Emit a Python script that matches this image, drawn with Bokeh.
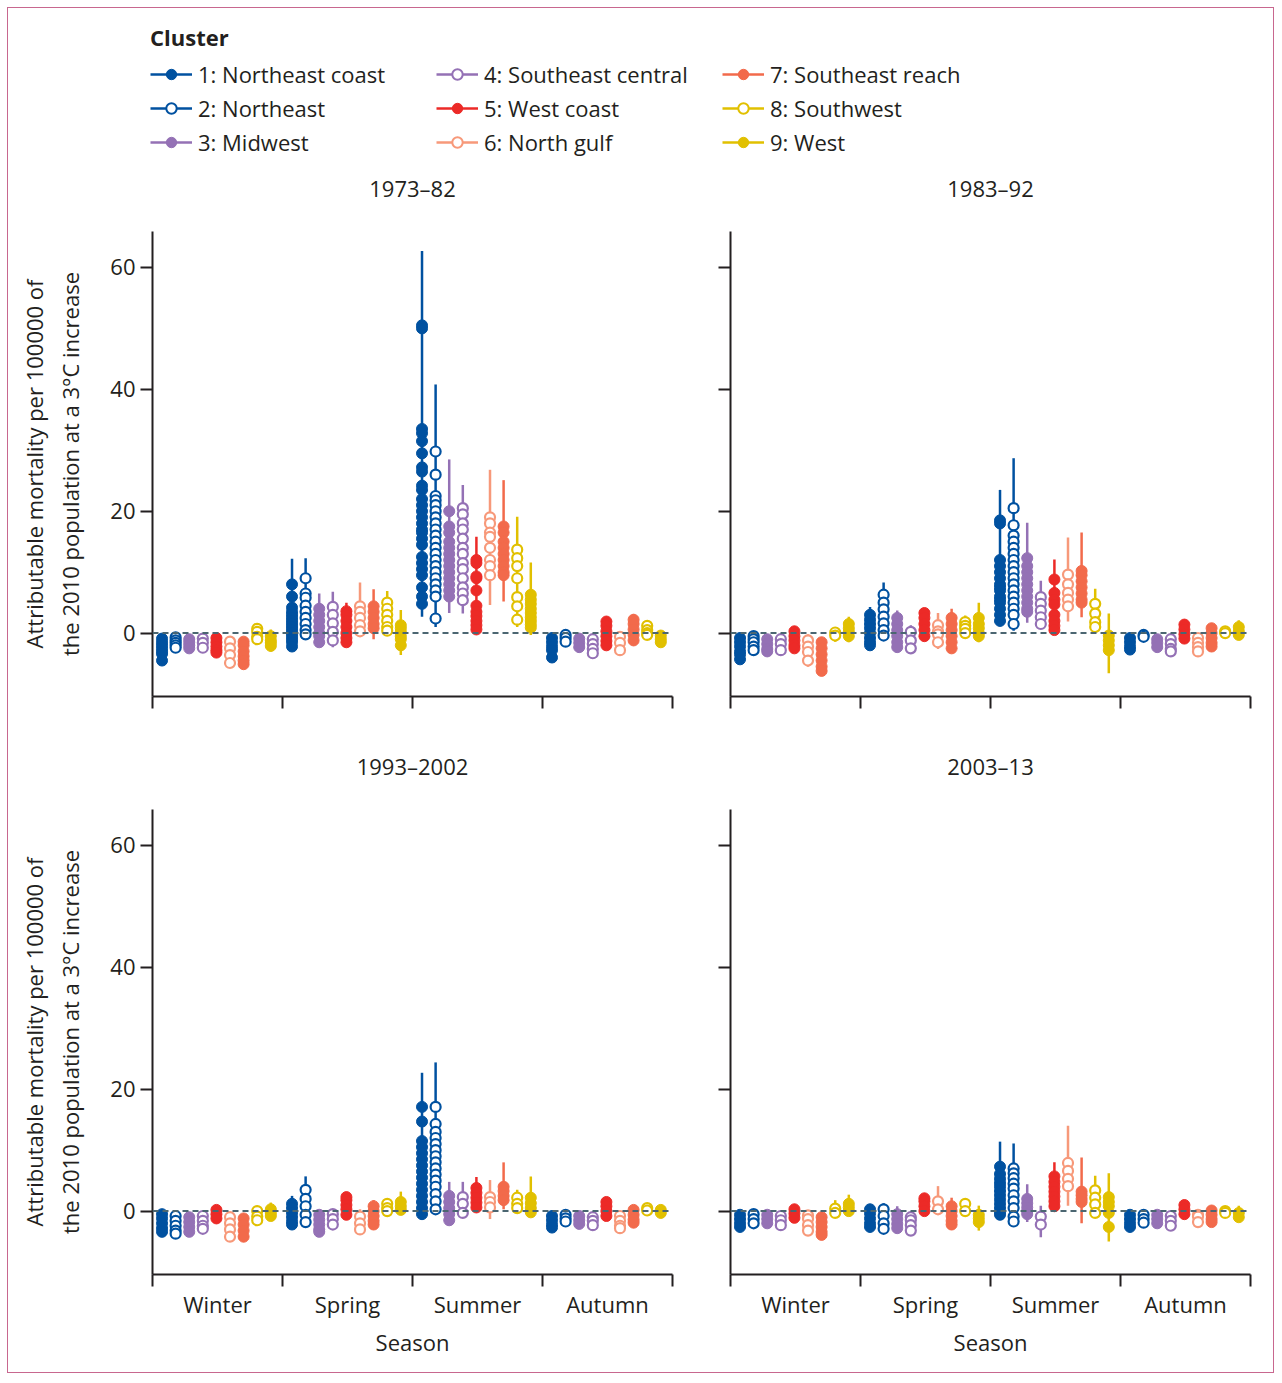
from bokeh.plotting import figure
from bokeh.models import (ColumnDataSource, Range1d, FixedTicker, Span, Legend, LegendItem,
                          LinearAxis)
from bokeh.layouts import column, row
from bokeh.embed import file_html
from bokeh.resources import INLINE

FONT = "Open Sans"
TXT = "#231f20"

CLUSTERS = ["1: Northeast coast", "2: Northeast", "3: Midwest", "4: Southeast central",
            "5: West coast", "6: North gulf", "7: Southeast reach", "8: Southwest", "9: West"]
CLUSTER_COLORS = ["#0051a0", "#0051a0", "#9471b5", "#9471b5", "#ec2a27",
                  "#f7997a", "#f26a4b", "#e1c000", "#e1c000"]
CLUSTER_OPEN = [False, True, False, True, False, True, False, True, False]
SEASONS = ["Winter", "Spring", "Summer", "Autumn"]
PERIODS = ["1973–82", "1983–92", "1993–2002", "2003–13"]
Y_TICKS = [0, 20, 40, 60]

# ---------- 1973–82 ----------
LO_1973 = [
    [-4.8, -2.9, -3.1, -3.2, -3.7, -5.5, -5.6, -1.4, -3.0],
    [-2.8, -0.6, -2.2, -2.3, -2.0, -0.6, -1.0, 0.0, -3.6],
    [2.7, 1.0, 3.3, 3.2, 0.0, 4.6, 5.2, 1.0, -0.3],
    [-4.4, -2.0, -2.8, -3.9, -2.5, -3.6, -1.8, -0.9, -2.0],
]
HI_1973 = [
    [-0.5, -0.3, -0.6, -0.5, -0.3, -1.0, -1.0, 1.3, 0.6],
    [12.2, 12.3, 6.5, 6.8, 5.0, 8.3, 7.2, 6.9, 3.8],
    [62.7, 40.8, 28.5, 24.3, 15.8, 26.8, 25.1, 19.1, 11.6],
    [-0.5, 0.2, -0.4, -0.6, 2.4, 0.0, 3.1, 2.0, 0.2],
]
PTS_1973 = [
    [[-0.9, -1.5, -2.0, -2.5, -3.0, -3.4, -4.5], [-0.7, -1.2, -1.6, -2.0, -2.4],
     [-1.0, -1.5, -2.0, -2.5], [-0.9, -1.6, -2.4], [-0.8, -1.5, -2.2, -2.8, -3.2],
     [-1.4, -2.5, -3.6, -4.9], [-1.4, -2.0, -3.0, -3.8, -4.5, -5.1], [0.7, 0.2, -0.6, -1.0],
     [-0.5, -1.2, -1.6, -2.1]],
    [[8.0, 6.0, 4.2, 3.5, 3.0, 2.5, 2.0, 1.5, 1.0, 0.5, 0.0, -0.5, -1.0, -1.5, -2.2],
     [9.0, 6.5, 5.8, 4.5, 3.5, 2.5, 1.5, 0.5, -0.2], [4.0, 3.0, 2.0, 1.0, 0.0, -0.5, -1.5],
     [4.3, 3.0, 1.6, 0.2, -1.2], [3.6, 3.0, 2.0, 1.0, 0.0, -0.8, -1.5], [4.4, 3.5, 2.5, 1.3, 0.3],
     [4.4, 3.5, 2.5, 1.5, 0.8], [5.0, 4.0, 3.0, 2.0, 1.0, 0.4], [1.3, 0.8, 0.2, -0.5, -1.0, -2.0]],
    [[50.5, 50.0, 33.5, 32.8, 31.5, 29.5, 27.2, 26.5, 24.2, 23.5, 22.0, 21.0, 20.0, 19.0, 18.0,
      17.0, 16.5, 15.5, 14.5, 12.5, 11.5, 10.5, 9.5, 7.5, 6.0, 4.8],
     [29.8, 26.0, 22.5, 21.8, 21.0, 20.0, 19.0, 18.0, 17.0, 16.0, 15.0, 14.0, 13.0, 12.0, 11.0,
      10.0, 9.0, 8.0, 7.0, 6.0, 2.4],
     [20.0, 17.5, 16.5, 15.0, 14.0, 13.0, 12.0, 11.0, 10.0, 9.0, 8.0, 7.0, 6.0],
     [20.5, 19.5, 18.0, 17.0, 15.5, 14.0, 13.0, 11.5, 10.5, 9.0, 7.5, 6.5, 5.4],
     [12.0, 11.5, 9.3, 9.0, 7.0, 4.5, 3.5, 2.8, 2.0, 1.3, 0.6],
     [19.0, 18.0, 16.5, 15.8, 14.0, 12.0, 11.0, 9.5],
     [17.5, 16.5, 15.0, 14.0, 13.0, 12.0, 11.0, 10.0, 9.5],
     [13.7, 12.3, 11.0, 9.0, 5.9, 4.4, 2.2],
     [6.3, 5.5, 4.8, 4.0, 3.3, 2.6, 2.0, 1.4, 0.9]],
    [[-0.8, -1.5, -2.2, -2.8, -4.0], [-0.3, -0.8, -1.4], [-0.9, -1.6, -2.3], [-1.0, -1.8, -2.6, -3.3],
     [1.9, 1.2, 0.3, -0.5, -1.3, -2.0], [-0.6, -1.6, -2.8], [2.2, 1.5, 0.6, -0.3, -1.2],
     [1.2, 0.5, 0.0, -0.3], [-0.4, -1.0, -1.5]],
]

# ---------- 1983–92 ----------
LO_1983 = [
    [-5.0, -3.4, -3.5, -3.5, -3.0, -5.5, -6.9, -1.4, -1.5],
    [-2.4, -1.1, -2.9, -3.4, -1.1, -2.6, -3.3, -0.6, -1.5],
    [1.3, 0.4, 1.7, 0.7, 0.0, 1.9, 2.6, 0.4, -6.6],
    [-3.1, -1.2, -2.8, -3.4, -1.5, -3.4, -2.8, -0.5, -0.9],
]
HI_1983 = [
    [-0.3, 0.1, -0.4, -0.4, 0.8, -0.2, -0.9, 0.9, 2.7],
    [4.3, 8.3, 3.7, 1.3, 4.1, 3.3, 4.0, 2.9, 5.0],
    [23.5, 28.7, 18.1, 8.6, 12.1, 15.7, 16.5, 7.3, 3.2],
    [-0.6, 0.5, -0.5, -0.4, 2.0, -0.3, 1.5, 0.8, 2.1],
]
PTS_1983 = [
    [[-0.8, -1.5, -2.2, -3.0, -3.5, -4.3], [-0.5, -1.0, -1.5, -2.2, -2.8], [-1.0, -1.8, -2.6, -3.0],
     [-1.0, -1.8, -2.8], [0.3, -0.5, -1.2, -2.0, -2.5], [-1.2, -2.2, -3.1, -4.5],
     [-1.5, -2.5, -3.5, -4.5, -5.5, -6.2], [0.1, -0.4], [1.5, 0.8, 0.2, -0.5]],
    [[3.0, 2.2, 1.5, 0.8, 0.0, -0.8, -1.5, -2.0], [6.3, 5.0, 3.9, 2.7, 1.6, 0.5, -0.4],
     [2.5, 1.5, 0.5, -0.5, -1.5, -2.3], [0.2, -1.2, -2.5], [3.3, 2.5, 1.5, 0.5, -0.5],
     [1.3, 0.3, -0.2, -1.5], [2.5, 1.5, 0.5, -0.5, -1.5, -2.5], [1.8, 1.2, 0.7, 0.0],
     [2.5, 1.5, 0.8, 0.0, -0.5]],
    [[18.5, 18.0, 12.0, 11.0, 10.0, 9.0, 8.0, 7.5, 7.0, 6.0, 5.5, 5.0, 4.0, 3.0, 2.0],
     [20.5, 17.7, 16.0, 15.0, 14.0, 13.0, 12.0, 11.0, 10.0, 9.0, 8.0, 7.0, 6.0, 5.0, 4.0, 3.0, 1.5],
     [12.3, 11.0, 10.0, 9.0, 8.0, 7.0, 6.0, 5.0, 4.0, 3.5], [5.9, 4.8, 3.7, 2.6, 1.5],
     [8.8, 6.6, 5.5, 4.7, 3.0, 2.0, 1.2, 0.5], [9.6, 8.0, 6.6, 5.5, 4.4],
     [10.2, 9.5, 8.5, 7.5, 6.5, 5.5, 5.0], [4.8, 3.2, 1.8, 1.0], [-0.4, -1.2, -2.0, -2.8]],
    [[-0.8, -1.5, -2.2, -2.7], [-0.3, -0.6], [-1.0, -1.6, -2.3], [-1.0, -1.8, -2.6, -3.0],
     [1.4, 0.6, -0.2, -0.9], [-0.8, -1.6, -2.3, -3.0], [0.8, 0.0, -0.8, -1.6, -2.2], [0.3, 0.0],
     [1.0, 0.3, -0.3]],
]

# ---------- 1993–2002 ----------
LO_1993 = [
    [-3.8, -4.0, -4.0, -3.2, -1.8, -5.0, -4.8, -2.0, -1.4],
    [-2.6, -2.5, -3.8, -2.7, -1.0, -3.8, -2.6, -0.3, -0.6],
    [-0.9, -0.1, -2.3, -0.9, 0.4, -1.3, 0.3, -0.3, -0.9],
    [-3.0, -2.1, -2.6, -2.8, -1.4, -3.2, -2.2, -0.5, -0.7],
]
HI_1993 = [
    [-0.3, -0.3, -0.6, -0.3, 0.6, -0.5, -0.8, 0.3, 1.4],
    [2.5, 5.7, -0.3, 0.2, 3.0, 0.3, 1.8, 1.7, 3.2],
    [22.7, 24.4, 4.8, 4.8, 5.6, 5.1, 8.0, 3.5, 5.7],
    [-0.5, -0.1, -0.5, -0.5, 2.0, -0.5, 0.8, 1.0, 0.8],
]
PTS_1993 = [
    [[-0.5, -1.2, -2.0, -2.8, -3.4], [-0.8, -1.6, -2.4, -3.2, -3.7], [-1.0, -1.8, -2.6, -3.4],
     [-0.8, -1.6, -2.4, -2.9], [0.2, -0.5, -1.2], [-1.0, -2.0, -3.0, -4.2], [-1.2, -2.2, -3.2, -4.2],
     [0.0, -0.9, -1.5], [0.3, -0.3, -0.8]],
    [[1.2, 0.5, -0.3, -1.0, -1.7, -2.2], [3.5, 2.0, 0.8, -0.6, -1.8], [-0.6, -1.4, -2.2, -3.0, -3.4],
     [-0.5, -1.3, -2.2], [2.3, 1.8, 1.0, 0.3, -0.6], [-0.9, -2.0, -3.0], [0.8, 0.0, -0.8, -1.6, -2.2],
     [1.2, 0.5, 0.0], [1.5, 0.8, 0.2]],
    [[17.1, 14.7, 11.5, 10.5, 9.5, 8.5, 7.5, 6.5, 5.5, 4.5, 3.5, 2.5, 1.5, 0.5, -0.5],
     [17.1, 14.3, 13.0, 12.0, 11.0, 10.0, 9.0, 8.0, 7.0, 6.0, 5.0, 4.0, 2.8, 1.6, 0.3],
     [2.5, 1.5, 0.5, -0.5, -1.5], [2.3, 1.2, -0.3], [3.8, 3.0, 2.2, 1.4, 0.6], [2.3, 1.5, 0.6],
     [4.0, 3.3, 2.5, 1.8], [2.2, 1.2, 0.5], [2.2, 1.3, 0.5, -0.2]],
    [[-0.8, -1.5, -2.2, -2.7], [-0.6, -1.2, -1.7], [-0.8, -1.5, -2.1], [-1.0, -1.6, -2.3],
     [1.5, 0.8, 0.0, -0.8], [-0.8, -1.6, -2.4, -2.8], [0.2, -0.6, -1.4, -1.9], [0.5, 0.1], [0.2, -0.3]],
]

# ---------- 2003–13 ----------
LO_2003 = [
    [-3.0, -2.6, -2.5, -2.8, -1.5, -3.7, -4.3, -1.0, -0.6],
    [-3.0, -3.5, -3.2, -3.6, -0.4, -0.5, -3.1, -0.5, -3.2],
    [-0.9, -2.0, -1.8, -4.3, 0.0, 0.9, -2.0, -0.8, -5.0],
    [-3.0, -2.5, -2.6, -2.8, -1.2, -2.6, -2.2, -0.6, -1.5],
]
HI_2003 = [
    [-0.3, 0.0, -0.3, -0.4, 0.6, -0.3, -0.5, 1.8, 2.7],
    [0.6, 1.3, 0.8, -0.5, 2.6, 4.1, 2.2, 2.0, 0.9],
    [11.4, 11.1, 4.4, 0.9, 8.0, 14.0, 8.8, 5.8, 6.2],
    [-0.3, 0.0, -0.3, -0.4, 1.4, -0.2, 0.9, 0.6, 0.9],
]
PTS_2003 = [
    [[-0.6, -1.3, -2.0, -2.6], [-0.5, -1.3, -2.0], [-0.6, -1.3, -2.0], [-0.8, -1.5, -2.3],
     [0.3, -0.4, -1.1], [-0.7, -1.3, -2.3, -3.2], [-1.0, -1.8, -2.6, -3.4, -3.9], [0.4, -0.3],
     [1.2, 0.6, 0.0]],
    [[0.3, -0.4, -1.2, -2.0, -2.6], [0.3, -0.8, -2.0, -2.9], [-0.5, -1.3, -2.1, -2.8],
     [-1.0, -1.5, -2.3, -3.2], [2.1, 1.6, 0.8, 0.0], [1.6, 0.3], [0.8, 0.0, -0.8, -1.6, -2.2],
     [1.2, 0.0], [-0.6, -1.2, -1.8]],
    [[7.3, 6.1, 5.3, 4.6, 4.0, 3.3, 2.6, 1.9, 1.2, 0.5, -0.2, -0.6],
     [7.0, 6.2, 5.4, 4.5, 3.7, 2.6, 1.6, 0.5, -0.9, -1.7], [2.0, 1.3, 0.6, 0.0, -0.5], [-0.9, -2.2],
     [5.7, 4.8, 4.0, 3.2, 2.4, 1.6, 0.8], [7.9, 6.6, 5.3, 4.1], [3.2, 2.6, 2.0, 1.5],
     [3.4, 2.2, 1.1, -0.3], [2.3, 1.5, 0.8, -0.3, -2.6]],
    [[-0.6, -1.3, -2.0, -2.6], [-0.6, -1.3, -1.9], [-0.6, -1.3, -2.0], [-0.8, -1.6, -2.4],
     [1.0, 0.3, -0.5], [-0.6, -0.9, -1.8], [0.1, -0.6, -1.3, -1.8], [0.0, -0.3], [-0.3, -1.0]],
]

PANEL_DATA = [(LO_1973, HI_1973, PTS_1973), (LO_1983, HI_1983, PTS_1983),
              (LO_1993, HI_1993, PTS_1993), (LO_2003, HI_2003, PTS_2003)]

SEASON_W = 9.56
X_END = 4 * SEASON_W
BOUNDS = [i * SEASON_W for i in range(5)]
CENTERS = [i * SEASON_W + SEASON_W / 2 for i in range(4)]


def xpos(s, c):
    return s * SEASON_W + 0.7 + c


def make_panel(idx, left, bottom):
    lo, hi, pts = PANEL_DATA[idx]
    w = 702 if left else 563
    h = 635 if bottom else 578
    p = figure(width=w, height=h, output_backend="svg", toolbar_location=None, title=None,
               x_range=Range1d(-0.001, X_END + 0.001), y_range=Range1d(-10.4, 65.9),
               min_border_left=144 if left else 20, min_border_right=38 if left else 23,
               min_border_top=72, min_border_bottom=98 if bottom else 41)
    p.outline_line_color = None
    p.xgrid.visible = False
    p.ygrid.visible = False
    p.background_fill_color = "white"
    p.border_fill_color = "white"

    xa = p.xaxis[0]
    ya = p.yaxis[0]

    # period title: label of a bare axis above the frame
    top = LinearAxis(ticker=FixedTicker(ticks=[], minor_ticks=[]), axis_label=PERIODS[idx],
                     axis_line_color=None, major_tick_line_color=None,
                     minor_tick_line_color=None, major_tick_out=0, minor_tick_out=0,
                     major_tick_in=0, minor_tick_in=0,
                     major_label_standoff=0, axis_label_standoff=29,
                     axis_label_text_font=FONT, axis_label_text_font_size="22px",
                     axis_label_text_font_style="normal", axis_label_text_color=TXT)
    p.add_layout(top, "above")

    if bottom:
        xa.ticker = FixedTicker(ticks=CENTERS, minor_ticks=BOUNDS)
        xa.major_label_overrides = {c: s for c, s in zip(CENTERS, SEASONS)}
        xa.axis_label = "Season"
    else:
        xa.ticker = FixedTicker(ticks=[], minor_ticks=BOUNDS)
    xa.major_tick_out = 0
    xa.major_tick_in = 0
    xa.minor_tick_out = 12
    xa.minor_tick_in = 0
    xa.minor_tick_line_width = 2
    xa.minor_tick_line_color = TXT
    xa.axis_line_width = 2
    xa.axis_line_color = TXT
    xa.major_label_standoff = 2
    xa.major_label_text_font = FONT
    xa.major_label_text_font_size = "22px"
    xa.major_label_text_color = TXT
    xa.axis_label_text_font = FONT
    xa.axis_label_text_font_size = "22px"
    xa.axis_label_text_font_style = "normal"
    xa.axis_label_text_color = TXT
    xa.axis_label_standoff = 5

    ya.ticker = FixedTicker(ticks=Y_TICKS, minor_ticks=[])
    ya.major_tick_out = 12
    ya.major_tick_in = 0
    ya.minor_tick_out = 0
    ya.major_tick_line_width = 2
    ya.major_tick_line_color = TXT
    ya.axis_line_width = 2
    ya.axis_line_color = TXT
    ya.major_label_text_font = FONT
    ya.major_label_text_font_size = "22px"
    ya.major_label_text_color = TXT
    ya.major_label_standoff = 5
    if left:
        ya.axis_label = ("Attributable mortality per 100000 of\n"
                         "the 2010 population at a 3°C increase")
        ya.axis_label_text_font = FONT
        ya.axis_label_text_font_size = "22px"
        ya.axis_label_text_font_style = "normal"
        ya.axis_label_text_color = TXT
        ya.axis_label_standoff = 22
    else:
        ya.major_label_overrides = {t: "" for t in Y_TICKS}
        ya.major_label_standoff = 0

    p.add_layout(Span(location=0, dimension="width", line_color="#4b6671",
                      line_width=2, line_dash="6 4"))

    seg = dict(x=[], lo=[], hi=[], color=[])
    dots = dict(x=[], y=[], color=[], fill=[], lw=[], size=[])
    for s in range(4):
        for c in range(9):
            x = xpos(s, c)
            col = CLUSTER_COLORS[c]
            seg["x"].append(x)
            seg["lo"].append(lo[s][c])
            seg["hi"].append(hi[s][c])
            seg["color"].append(col)
            for v in pts[s][c]:
                dots["x"].append(x)
                dots["y"].append(v)
                dots["color"].append(col)
                dots["fill"].append("white" if CLUSTER_OPEN[c] else col)
                dots["lw"].append(2.2 if CLUSTER_OPEN[c] else 1.0)
                dots["size"].append(10 if CLUSTER_OPEN[c] else 11)
    p.segment(x0="x", y0="lo", x1="x", y1="hi", line_color="color", line_width=2.5,
              source=ColumnDataSource(seg))
    p.scatter(x="x", y="y", marker="circle", size="size", fill_color="fill",
              line_color="color", line_width="lw", source=ColumnDataSource(dots))
    return p


# legend figure
lg = figure(width=1265, height=151, output_backend="svg", toolbar_location=None, title=None,
            x_range=Range1d(0, 1), y_range=Range1d(0, 1), x_axis_type=None, y_axis_type=None,
            min_border_left=142, min_border_top=14, min_border_right=0, min_border_bottom=0)
lg.outline_line_color = None
lg.xgrid.visible = False
lg.ygrid.visible = False
items = []
NAN = float("nan")
for c in range(9):
    col = CLUSTER_COLORS[c]
    src = ColumnDataSource(dict(x=[NAN], y=[NAN]))
    lr = lg.line("x", "y", line_color=col, line_width=2.5, source=src)
    sr = lg.scatter("x", "y", marker="circle", size=10, line_color=col,
                    fill_color="white" if CLUSTER_OPEN[c] else col,
                    line_width=2.0 if CLUSTER_OPEN[c] else 1.0, source=src)
    items.append(LegendItem(label=CLUSTERS[c], renderers=[lr, sr], index=0))
legend = Legend(items=items, location="top_left", orientation="vertical", nrows=3,
                title="Cluster", title_text_font=FONT, title_text_font_size="22px",
                title_text_font_style="bold", title_text_color=TXT, title_standoff=7,
                label_text_font=FONT, label_text_font_size="22px", label_text_color=TXT,
                glyph_width=42, glyph_height=26, label_standoff=6, label_width=234,
                spacing=4, padding=0, margin=0, border_line_color=None,
                background_fill_alpha=0)
lg.add_layout(legend)

p1 = make_panel(0, True, False)
p2 = make_panel(1, False, False)
p3 = make_panel(2, True, True)
p4 = make_panel(3, False, True)

layout = column(lg, row(p1, p2), row(p3, p4),
                styles={"border": "1px solid #c8678f", "background-color": "white",
                        "margin": "7px 0 0 7px"})

open("out.html", "w").write(file_html(layout, INLINE))
